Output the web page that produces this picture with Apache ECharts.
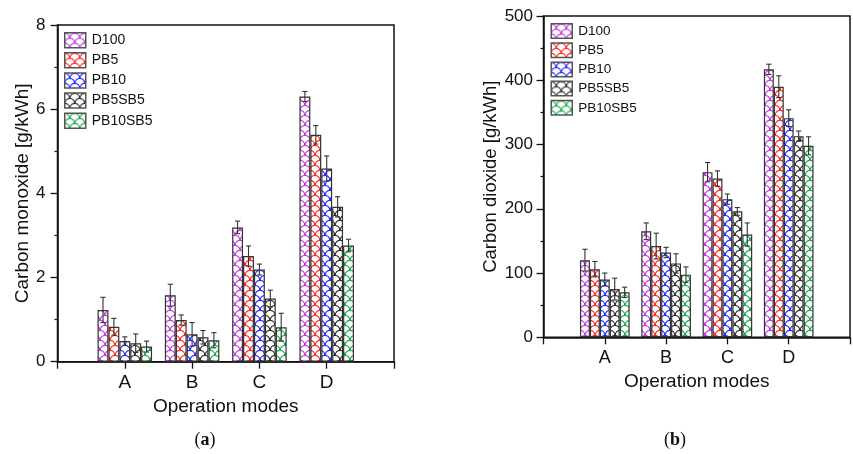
<!DOCTYPE html>
<html>
<head>
<meta charset="utf-8">
<script src="https://cdn.jsdelivr.net/npm/echarts@6/dist/echarts.min.js"></script>
<style>
html,body{margin:0;padding:0;background:#fff;}
#chart{width:853px;height:454px;}
</style>
</head>
<body>
<div id="chart"></div>
<script>
// ---- data ----
var categories = ['A', 'B', 'C', 'D'];
var seriesNames = ['D100', 'PB5', 'PB10', 'PB5SB5', 'PB10SB5'];
// Carbon monoxide [g/kWh]
var coValues = [
  [1.23, 1.58, 3.19, 6.30],   // D100
  [0.83, 0.99, 2.51, 5.39],   // PB5
  [0.49, 0.65, 2.19, 4.59],   // PB10
  [0.44, 0.58, 1.50, 3.68],   // PB5SB5
  [0.36, 0.51, 0.82, 2.76]    // PB10SB5
];
var coErrors = [
  [0.30, 0.26, 0.15, 0.12],
  [0.20, 0.12, 0.24, 0.22],
  [0.10, 0.28, 0.13, 0.30],
  [0.22, 0.16, 0.20, 0.24],
  [0.13, 0.18, 0.33, 0.15]
];
// Carbon dioxide [g/kWh]
var co2Values = [
  [120, 165, 257, 417],
  [106, 142, 247, 390],
  [90, 132, 215, 341],
  [75, 115, 196, 313],
  [70, 97.5, 160, 298]
];
var co2Errors = [
  [17, 13, 15, 8],
  [12, 20, 12, 17],
  [10, 8, 8, 13],
  [17, 15, 6, 8],
  [8, 12, 18, 14]
];
var coTicks = {min: 0, max: 8, interval: 2};
var co2Ticks = {min: 0, max: 500, interval: 100};

// ---- styles ----
var lineColors = ['#c03fe0', '#ff2b2b', '#2b2bff', '#333333', '#1faa4f'];
var BAR_FRAC = 0.162;
var FONT = "'Liberation Sans', Arial, sans-serif";
var SERIF = "'Liberation Serif', 'Times New Roman', serif";

function makePattern(color) {
  var c = document.createElement('canvas');
  var w = 10, h = 10, r = 5;
  c.width = w; c.height = h;
  var ctx = c.getContext('2d');
  ctx.fillStyle = '#ffffff';
  ctx.fillRect(0, 0, w, h);
  ctx.strokeStyle = color;
  ctx.lineWidth = 1.2;
  var centers = [[w / 2, h], [w / 2, 0], [0, h / 2], [w, h / 2]];
  centers.forEach(function (p) {
    ctx.beginPath();
    ctx.arc(p[0], p[1], r - 0.3, Math.PI, 2 * Math.PI);
    ctx.stroke();
  });
  return {image: c, repeat: 'repeat'};
}
var patterns = lineColors.map(makePattern);

var paddedCats = [''].concat(categories).concat(['']);

function barSeries(values, gi) {
  return values.map(function (vals, si) {
    return {
      name: seriesNames[si],
      type: 'bar',
      xAxisIndex: gi,
      yAxisIndex: gi,
      barWidth: (BAR_FRAC * 100) + '%',
      barGap: '0%',
      data: [null].concat(vals).concat([null]),
      itemStyle: {color: patterns[si], borderColor: '#333', borderWidth: 1.2},
      emphasis: {disabled: true},
      z: 2
    };
  });
}
function errorSeries(values, errors, gi) {
  var data = [];
  values.forEach(function (vals, si) {
    vals.forEach(function (v, ci) {
      data.push([ci + 1, si, v, errors[si][ci]]);
    });
  });
  return {
    type: 'custom',
    xAxisIndex: gi,
    yAxisIndex: gi,
    data: data,
    encode: {x: 0, y: 2},
    z: 5,
    silent: true,
    renderItem: function (params, api) {
      var band = api.size([1, 0])[0];
      var bw = band * BAR_FRAC;
      var ci = api.value(0), si = api.value(1), v = api.value(2), e = api.value(3);
      var x = api.coord([ci, v])[0] + (si - 2) * bw;
      var yt = api.coord([ci, v + e])[1];
      var yb = api.coord([ci, v - e])[1];
      var cap = 2.6;
      var st = {stroke: '#333', lineWidth: 1.1};
      return {
        type: 'group',
        children: [
          {type: 'line', shape: {x1: x, y1: yt, x2: x, y2: yb}, style: st},
          {type: 'line', shape: {x1: x - cap, y1: yt, x2: x + cap, y2: yt}, style: st},
          {type: 'line', shape: {x1: x - cap, y1: yb, x2: x + cap, y2: yb}, style: st}
        ]
      };
    }
  };
}

function xAxisCfg(gi, labelSize, margin, nameGap) {
  return {
    type: 'category', gridIndex: gi, data: paddedCats, boundaryGap: false,
    name: 'Operation modes', nameLocation: 'middle', nameGap: nameGap,
    nameTextStyle: {fontFamily: FONT, fontSize: 19, color: '#111'},
    axisLine: {lineStyle: {color: '#111', width: 1.5}},
    axisTick: {show: true, inside: false, length: 7, lineStyle: {color: '#111', width: 1.3}, alignWithLabel: true},
    axisLabel: {fontFamily: FONT, fontSize: labelSize, color: '#111', margin: margin, interval: 0},
    splitLine: {show: false}
  };
}
function yAxisCfg(gi, ticks, name, nameGap, margin, nameSize) {
  return {
    type: 'value', gridIndex: gi, min: ticks.min, max: ticks.max, interval: ticks.interval,
    name: name, nameLocation: 'middle', nameGap: nameGap,
    nameTextStyle: {fontFamily: FONT, fontSize: nameSize, color: '#111'},
    axisLine: {show: true, lineStyle: {color: '#111', width: 1.5}},
    axisTick: {show: true, inside: false, length: 7, lineStyle: {color: '#111', width: 1.3}},
    minorTick: {show: true, splitNumber: 2, length: 3, lineStyle: {color: '#111', width: 1.2}},
    axisLabel: {fontFamily: FONT, fontSize: 17, color: '#111', margin: margin},
    splitLine: {show: false}
  };
}

var chart = echarts.init(document.getElementById('chart'), null, {renderer: 'canvas'});
var option = {
  animation: false,
  backgroundColor: '#ffffff',
  grid: [
    {left: 57.5, top: 25, width: 336.5, height: 336.7, show: true, borderColor: '#111', borderWidth: 1.5, backgroundColor: 'transparent'},
    {left: 543.5, top: 16, width: 321, height: 321.3, show: true, borderColor: '#111', borderWidth: 1.5, backgroundColor: 'transparent'}
  ],
  legend: [
    {left: 64, top: 32, padding: 0, orient: 'vertical', itemWidth: 21, itemHeight: 15, itemGap: 3.6, icon: 'rect',
     data: seriesNames, selectedMode: false,
     itemStyle: {borderColor: '#555', borderWidth: 1.5},
     textStyle: {fontFamily: FONT, fontSize: 14, color: '#111', padding: [0, 0, 0, 1]}},
    {left: 550.5, top: 23, padding: 0, orient: 'vertical', itemWidth: 21, itemHeight: 14.5, itemGap: 3.2, icon: 'rect',
     data: seriesNames, selectedMode: false,
     itemStyle: {borderColor: '#555', borderWidth: 1.5},
     textStyle: {fontFamily: FONT, fontSize: 13.5, color: '#111', padding: [0, 0, 0, 1]}}
  ],
  xAxis: [xAxisCfg(0, 19, 12, 36), xAxisCfg(1, 18, 12, 31)],
  yAxis: [
    yAxisCfg(0, coTicks, 'Carbon monoxide [g/kWh]', 25, 12, 19),
    yAxisCfg(1, co2Ticks, 'Carbon dioxide [g/kWh]', 42, 10.5, 18.5)
  ],
  series: barSeries(coValues, 0)
    .concat(barSeries(co2Values, 1))
    .concat([errorSeries(coValues, coErrors, 0), errorSeries(co2Values, co2Errors, 1)]),
  graphic: [
    {type: 'text', x: 205, y: 440, style: {text: '({b|a})', rich: {b: {fontWeight: 'bold', fontFamily: SERIF, fontSize: 18, fill: '#111'}}, fontFamily: SERIF, fontSize: 18, fill: '#111', textAlign: 'center', textVerticalAlign: 'middle'}},
    {type: 'text', x: 675, y: 440, style: {text: '({b|b})', rich: {b: {fontWeight: 'bold', fontFamily: SERIF, fontSize: 18, fill: '#111'}}, fontFamily: SERIF, fontSize: 18, fill: '#111', textAlign: 'center', textVerticalAlign: 'middle'}}
  ]
};
chart.setOption(option);
</script>
</body>
</html>
